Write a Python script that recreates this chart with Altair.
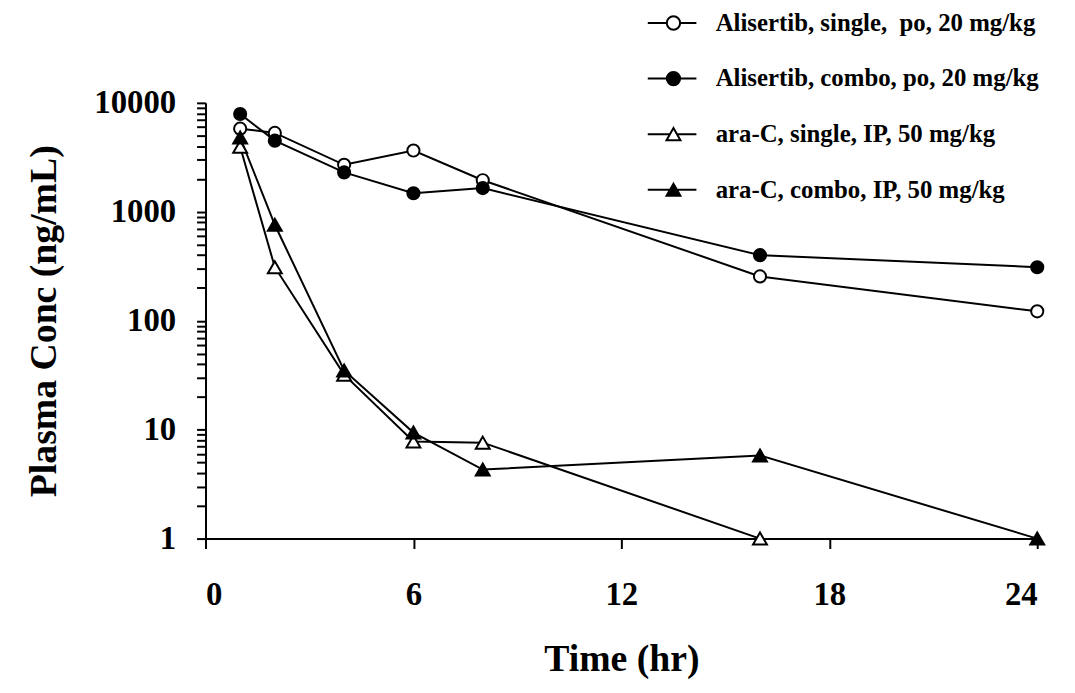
import altair as alt
import pandas as pd

# ---- data ----
times = [1, 2, 4, 6, 8, 16, 24]
ali_single = [5800, 5300, 2700, 3650, 1950, 255, 122]
ali_combo = [7900, 4500, 2300, 1480, 1650, 400, 310]
arac_single_t = [1, 2, 4, 6, 8, 16]
arac_single = [3950, 310, 32, 7.8, 7.6, 1]
arac_combo = [4800, 760, 35, 9.4, 4.3, 5.8, 1]

series_names = [
    "Alisertib, single,\u00a0 po, 20 mg/kg",
    "Alisertib, combo, po, 20 mg/kg",
    "ara-C, single, IP, 50 mg/kg",
    "ara-C, combo, IP, 50 mg/kg",
]
x_ticks = [0, 6, 12, 18, 24]
y_ticks = [m * d for d in [1, 10, 100, 1000] for m in range(1, 10)] + [10000]

rows = []
for name, drug, filled, ts, vs in [
    (series_names[0], "Alisertib", False, times, ali_single),
    (series_names[1], "Alisertib", True, times, ali_combo),
    (series_names[2], "ara-C", False, arac_single_t, arac_single),
    (series_names[3], "ara-C", True, times, arac_combo),
]:
    for t, v in zip(ts, vs):
        rows.append({"series": name, "drug": drug, "solid": filled, "t": t, "conc": v})
df = pd.DataFrame(rows)

FONT = "Liberation Serif"

x_enc = alt.X(
    "t:Q",
    scale=alt.Scale(domain=[0, 24], nice=False),
    axis=alt.Axis(
        values=x_ticks, title="Time (hr)", format="d",
        labelFontSize=33, labelFont=FONT, labelFontWeight="bold", labelColor="black",
        labelPadding=30, tickSize=10, tickWidth=2, tickColor="black",
        domainColor="black", domainWidth=2, grid=False,
        titleFontSize=38, titleFont=FONT, titleFontWeight="bold", titleColor="black",
        titleY=122, titleBaseline="middle",
    ),
)
y_enc = alt.Y(
    "conc:Q",
    scale=alt.Scale(type="log", domain=[1, 10000], nice=False),
    axis=alt.Axis(
        values=y_ticks, title="Plasma Conc (ng/mL)",
        labelExpr="indexof([1,10,100,1000,10000], datum.value) >= 0 ? format(datum.value, 'd') : ''",
        labelOverlap=False,
        labelFontSize=33, labelFont=FONT, labelFontWeight="bold", labelColor="black",
        labelPadding=21, tickSize=9, tickWidth=2, tickColor="black",
        domainColor="black", domainWidth=2, grid=False,
        titleFontSize=38, titleFont=FONT, titleFontWeight="bold", titleColor="black",
        titleX=-162, titleY=219.5, titleAngle=270, titleAlign="center", titleBaseline="middle",
    ),
)

base = alt.Chart(df)

lines = base.mark_line(color="black", strokeWidth=2).encode(
    x=x_enc, y=y_enc, detail="series:N", order="t:Q"
)

fill_cond = alt.condition("datum.solid", alt.value("black"), alt.value("white"))

circles = base.transform_filter("datum.drug == 'Alisertib'").mark_point(
    shape="circle", size=150, filled=True, stroke="black", strokeWidth=2, opacity=1
).encode(x=x_enc, y=y_enc, fill=fill_cond)

triangles = base.transform_filter("datum.drug == 'ara-C'").mark_point(
    shape="triangle-up", size=196, filled=True, stroke="black", strokeWidth=2, opacity=1
).encode(x=x_enc, y=y_enc, fill=fill_cond)

circ = "M-3.7,0H-0.96M0.96,0H3.3M-0.96,0A0.96,0.96,0,1,1,0.96,0A0.96,0.96,0,1,1,-0.96,0Z"
tri = "M-3.7,0H-0.6M0.6,0H3.3M0,-0.87L1,0.87L-1,0.87Z"

legend_props = dict(
    title=None, orient="none", legendX=459, legendY=-93,
    labelFont=FONT, labelFontSize=25, labelFontWeight="bold", labelColor="black",
    labelOffset=30, symbolSize=196, symbolStrokeWidth=2, symbolStrokeColor="black",
    symbolOpacity=1, rowPadding=30, padding=0, labelLimit=500,
)

legend_layer = base.mark_point(filled=True, strokeWidth=2, opacity=1).encode(
    x=x_enc,
    y=y_enc,
    shape=alt.Shape("series:N", scale=alt.Scale(domain=series_names,
                    range=[circ, circ, tri, tri]), legend=alt.Legend(**legend_props)),
    fill=alt.Fill("series:N", scale=alt.Scale(domain=series_names,
                  range=["white", "black", "white", "black"]), legend=alt.Legend(**legend_props)),
    stroke=alt.Stroke("series:N", scale=alt.Scale(domain=series_names,
                      range=["black", "black", "black", "black"]), legend=alt.Legend(**legend_props)),
).transform_filter("datum.t < 0")

chart = (
    alt.layer(lines, circles, triangles, legend_layer)
    .properties(
        width=838, height=439,
        autosize=alt.AutoSizeParams(type="none"),
        padding={"left": 199, "top": 93, "right": 30, "bottom": 153},
    )
    .configure_view(stroke=None)
)

chart.save("out.html", embed_options={"renderer": "svg", "actions": False})
